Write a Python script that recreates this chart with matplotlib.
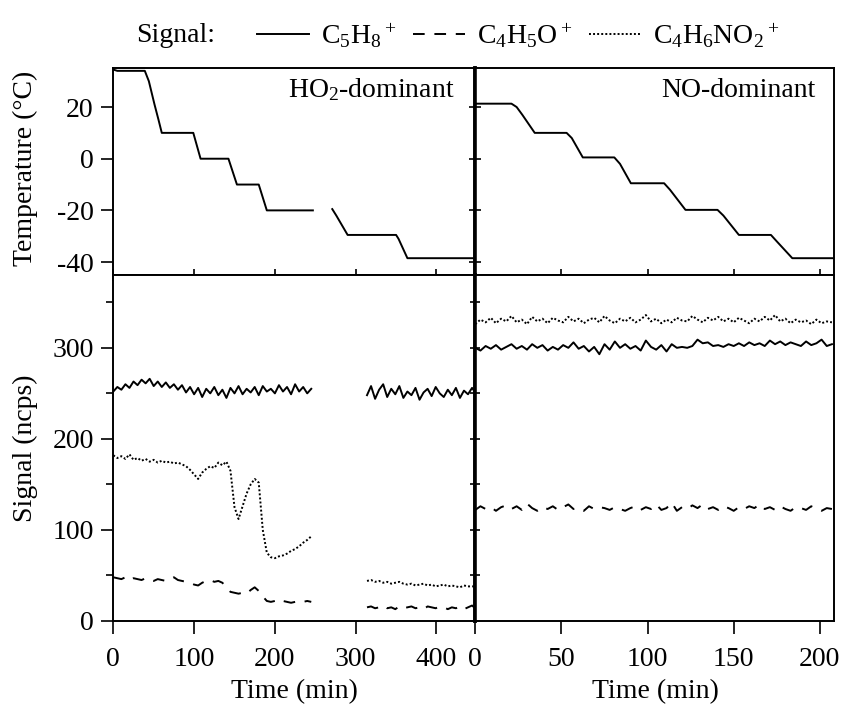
import matplotlib.pyplot as plt
from matplotlib.ticker import MultipleLocator

plt.rcParams["font.family"] = ["Liberation Serif", "DejaVu Serif"]
plt.rcParams["mathtext.default"] = "regular"
plt.rcParams["axes.unicode_minus"] = False
plt.rcParams["font.size"] = 20

# ---- temperature, HO2-dominant run (gap in logging between ~247 and ~271 min)
temp_ho2_t = [0, 5, 39, 44, 51, 56, 60, 99, 108, 142.5, 153, 180, 190, 247,
              259, 271, 276, 290, 350, 353, 364, 448]
temp_ho2 = [34.5, 34, 34, 30, 21, 15, 10, 10, 0, 0, -10, -10, -20, -20,
            float("nan"), -19.5, -22, -29.5, -29.5, -31, -38.5, -38.5]

# ---- temperature, NO-dominant run
temp_no_t = [0, 21, 24, 27.3, 34.5, 53, 56, 62.4, 80.7, 84, 90.3, 109.6, 113,
             122, 140.6, 144, 153, 171.6, 175, 184, 208]
temp_no = [21.3, 21.3, 20, 17, 10, 10, 8, 0.5, 0.5, -2, -9.5, -9.5, -12,
           -19.8, -19.8, -22, -29.5, -29.5, -32, -38.5, -38.5]

# ---- signals, HO2-dominant run (two recorded segments)
t_ho2_a = [0, 5, 10, 15, 20, 25, 30, 35, 40, 45, 50, 55, 60, 65, 70, 75, 80,
           85, 90, 95, 100, 105, 110, 115, 120, 125, 130, 135, 140, 145, 150,
           155, 160, 165, 170, 175, 180, 185, 190, 195, 200, 205, 210, 215,
           220, 225, 230, 235, 240, 245]
t_ho2_b = [314, 319, 324, 329, 334, 339, 344, 349, 354, 359, 364, 369, 374,
           379, 384, 389, 394, 399, 404, 409, 414, 419, 424, 429, 434, 439,
           444, 448]

c5h8_ho2_a = [252, 257, 254, 260, 256, 263, 259, 265, 261, 266, 258, 263, 257,
              262, 256, 260, 254, 259, 251, 257, 249, 256, 246, 255, 250, 257,
              248, 254, 245, 256, 250, 258, 249, 255, 251, 257, 248, 258, 252,
              255, 250, 259, 252, 257, 249, 260, 252, 257, 250, 255]
c5h8_ho2_b = [248, 258, 244, 254, 260, 246, 255, 249, 258, 245, 252, 248, 256,
              243, 251, 255, 247, 257, 250, 246, 254, 248, 256, 245, 253, 249,
              256, 251]

c4h6no2_ho2_a = [182, 179, 181, 178, 183, 177, 179, 176, 178, 175, 177, 174,
                 176, 174, 175, 173, 174, 172, 170, 166, 161, 156, 163, 167,
                 170, 168, 174, 171, 175, 165, 125, 112, 126, 140, 150, 156,
                 152, 100, 75, 70, 69, 71, 72, 74, 77, 79, 82, 86, 89, 93]
c4h6no2_ho2_b = [44, 45, 43, 44, 42, 43, 41, 42, 43, 41, 40, 41, 39, 40, 41,
                 39, 40, 38, 39, 40, 38, 39, 38, 37, 39, 38, 38, 38]

c4h5o_ho2_a = [48, 47, 46, 48, 45, 47, 46, 45, 47, 45, 44, 46, 45, 44, 46, 48,
               45, 44, 43, 42, 40, 39, 42, 44, 45, 43, 44, 42, 37, 32, 31, 30,
               31, 30, 34, 37, 33, 27, 22, 21, 22, 20, 22, 21, 20, 21, 22, 21,
               22, 21]
c4h5o_ho2_b = [15, 16, 14, 15, 17, 14, 15, 13, 16, 14, 15, 16, 14, 15, 13, 16,
               15, 14, 16, 15, 13, 15, 14, 16, 13, 15, 17, 14]

# ---- signals, NO-dominant run
t_no = [0, 3, 6, 9, 12, 15, 18, 21, 24, 27, 30, 33, 36, 39, 42, 45, 48, 51,
        54, 57, 60, 63, 66, 69, 72, 75, 78, 81, 84, 87, 90, 93, 96, 99, 102,
        105, 108, 111, 114, 117, 120, 123, 126, 129, 132, 135, 138, 141, 144,
        147, 150, 153, 156, 159, 162, 165, 168, 171, 174, 177, 180, 183, 186,
        189, 192, 195, 198, 201, 204, 207]

c5h8_no = [300, 297, 302, 299, 303, 298, 301, 304, 299, 302, 298, 304, 300,
           303, 297, 301, 298, 303, 300, 306, 299, 302, 296, 301, 293, 304,
           298, 307, 300, 304, 299, 302, 297, 308, 301, 298, 303, 296, 304,
           300, 301, 300, 302, 309, 305, 306, 302, 303, 301, 304, 302, 305,
           302, 306, 303, 305, 302, 308, 304, 307, 303, 306, 304, 302, 307,
           303, 305, 309, 302, 304]
c4h6no2_no = [326, 331, 328, 333, 327, 332, 329, 335, 328, 331, 326, 334, 329,
              332, 327, 333, 330, 328, 334, 329, 332, 327, 331, 333, 328, 335,
              330, 327, 332, 329, 333, 328, 331, 336, 329, 332, 327, 331, 328,
              333, 330, 329, 335, 331, 328, 333, 330, 334, 329, 332, 328, 333,
              330, 327, 332, 329, 334, 330, 336, 329, 332, 327, 331, 328, 330,
              326, 331, 327, 329, 328]
c4h5o_no = [122, 126, 123, 125, 121, 125, 127, 123, 126, 122, 129, 124, 121,
            125, 123, 126, 122, 125, 128, 123, 124, 121, 126, 123, 125, 124,
            122, 125, 123, 121, 124, 126, 122, 125, 123, 128, 122, 124, 130,
            121, 125, 123, 127, 124, 128, 123, 125, 122, 126, 124, 121, 125,
            123, 126, 124, 128, 123, 125, 122, 126, 123, 121, 125, 124, 122,
            126, 123, 121, 124, 123]

labels = ["C$_5$H$_8$$^+$", "C$_4$H$_5$O$^+$", "C$_4$H$_6$NO$_2$$^+$"]

solid = dict(color="black", lw=1.4, ls="-")
dashed = dict(color="black", lw=1.4, ls=(0, (6, 5)))
dotted = dict(color="black", lw=1.4, ls=(0, (1.0, 1.1)))

fig = plt.figure(figsize=(8.43, 7.06), dpi=100)
ax_tl = fig.add_axes([0.1344, 0.6105, 0.4294, 0.2928])
ax_tr = fig.add_axes([0.5638, 0.6105, 0.4251, 0.2928])
ax_bl = fig.add_axes([0.1344, 0.1204, 0.4294, 0.4901])
ax_br = fig.add_axes([0.5638, 0.1204, 0.4251, 0.4901])

# temperature panels
ax_tl.plot(temp_ho2_t, temp_ho2, **solid)
ax_tr.plot(temp_no_t, temp_no, **solid)

# signal panels
h1, = ax_bl.plot(t_ho2_a, c5h8_ho2_a, **solid)
ax_bl.plot(t_ho2_b, c5h8_ho2_b, **solid)
h2, = ax_bl.plot(t_ho2_a, c4h5o_ho2_a, **dashed)
ax_bl.plot(t_ho2_b, c4h5o_ho2_b, **dashed)
h3, = ax_bl.plot(t_ho2_a, c4h6no2_ho2_a, **dotted)
ax_bl.plot(t_ho2_b, c4h6no2_ho2_b, **dotted)

ax_br.plot(t_no, c5h8_no, **solid)
ax_br.plot(t_no, c4h5o_no, **dashed)
ax_br.plot(t_no, c4h6no2_no, **dotted)

for ax in (ax_tl, ax_bl):
    ax.set_xlim(0, 448)
    ax.set_xticks([0, 100, 200, 300, 400])
for ax in (ax_tr, ax_br):
    ax.set_xlim(0, 208)
    ax.set_xticks([0, 50, 100, 150, 200])
for ax in (ax_tl, ax_tr):
    ax.set_ylim(-45, 35)
    ax.set_yticks([-40, -20, 0, 20])
for ax in (ax_bl, ax_br):
    ax.set_ylim(0, 380)
    ax.yaxis.set_major_locator(MultipleLocator(100))
    ax.yaxis.set_minor_locator(MultipleLocator(50))

for ax in (ax_tl, ax_tr, ax_bl, ax_br):
    for sp in ax.spines.values():
        sp.set_linewidth(1.4)
    ax.tick_params(width=1.2, which="both")
for ax in (ax_tl, ax_bl):
    ax.spines["right"].set_linewidth(2.6)
for ax in (ax_tr, ax_br):
    ax.spines["left"].set_linewidth(2.6)

ax_tl.tick_params(axis="y", direction="out", length=9, pad=5)
ax_tl.tick_params(axis="x", direction="inout", length=9, labelbottom=False)
ax_tr.tick_params(axis="y", direction="inout", length=8, labelleft=False)
ax_tr.tick_params(axis="x", direction="inout", length=9, labelbottom=False)

ax_bl.tick_params(axis="y", which="major", direction="out", length=9, pad=5)
ax_bl.tick_params(axis="y", which="minor", direction="out", length=5)
ax_bl.tick_params(axis="x", direction="out", length=9, pad=10)
ax_br.tick_params(axis="y", which="both", direction="inout", length=7,
                  labelleft=False)
ax_br.tick_params(axis="x", direction="out", length=9, pad=10)

ax_tl.text(0.942, 0.8626, "HO$_2$-dominant", transform=ax_tl.transAxes,
           ha="right", va="baseline")
ax_tr.text(0.95, 0.8626, "NO-dominant", transform=ax_tr.transAxes,
           ha="right", va="baseline")

fig.text(25 / 843, 1 - 168 / 706, "Temperature (°C)", rotation=90,
         ha="center", va="center")
fig.text(25 / 843, 1 - 448 / 706, "Signal (ncps)", rotation=90,
         ha="center", va="center")
fig.text(294 / 843, 1 - 692 / 706, "Time (min)", ha="center", va="center")
fig.text(655 / 843, 1 - 692 / 706, "Time (min)", ha="center", va="center")

fig.text(176 / 843, 1 - 36 / 706, "Signal:", ha="center", va="center")
fig.legend([h1, h2, h3], labels, loc="center left",
           bbox_to_anchor=(257 / 843, 1 - 36 / 706), ncol=3, frameon=False,
           borderpad=0, borderaxespad=0, handlelength=1.87,
           handletextpad=0.43, columnspacing=0.58)

fig.savefig("out.png", dpi=100)
